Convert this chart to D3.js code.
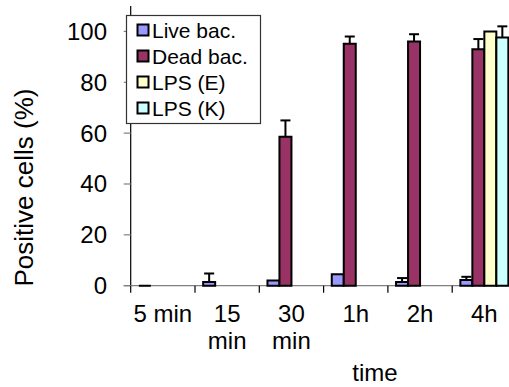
<!DOCTYPE html>
<html>
<head>
<meta charset="utf-8">
<script src="https://cdn.jsdelivr.net/npm/d3@7"></script>
<style>
  body { margin: 0; background: #fff; }
  svg { display: block; font-family: Arial, "Liberation Sans", sans-serif; }
</style>
</head>
<body>
<svg width="509" height="387"></svg>
<script>
const times = ['5 min', '15 min', '30 min', '1h', '2h', '4h'];
const seriesNames = ['Live bac.', 'Dead bac.', 'LPS (E)', 'LPS (K)'];
const seriesColors = ['#9999ff', '#993366', '#ffffcc', '#ccffff'];

// mean values (%), null = not measured
const liveBac = [0, 1.5, 2, 4.5, 1.5, 2.2];
const deadBac = [null, null, 58.6, 95.2, 96, 93];
const lpsE = [null, null, null, null, null, 100];
const lpsK = [null, null, null, null, null, 97.6];

// upper error bars
const liveErr = [0, 3.3, 0, 0, 1.5, 1.3];
const deadErr = [0, 0, 6.4, 2.8, 2.9, 4];
const lpsEErr = [0, 0, 0, 0, 0, 0];
const lpsKErr = [0, 0, 0, 0, 0, 4.4];

const yTicks = [0, 20, 40, 60, 80, 100];

const values = [liveBac, deadBac, lpsE, lpsK];
const errors = [liveErr, deadErr, lpsEErr, lpsKErr];

const svg = d3.select('svg');

const x0 = d3.scaleBand().domain(times).range([130.7, 516.5]);
const x1 = d3.scaleBand().domain(seriesNames).range([0, x0.bandwidth()]).paddingOuter(0.68);
const y = d3.scaleLinear().domain([0, 110]).range([285.7, 6]);

const bars = [];
values.forEach((vals, si) => {
  vals.forEach((v, ti) => {
    if (v === null) return;
    bars.push({ s: seriesNames[si], si, t: times[ti], v, err: errors[si][ti] });
  });
});

// y axis
const yAxis = svg.append('g');
yAxis.append('line')
  .attr('x1', x0.range()[0]).attr('x2', x0.range()[0])
  .attr('y1', y.range()[1]).attr('y2', y(0))
  .attr('stroke', '#000').attr('stroke-width', 1.2);
yAxis.selectAll('line.tick').data(yTicks).enter().append('line')
  .attr('class', 'tick')
  .attr('x1', x0.range()[0] - 7).attr('x2', x0.range()[0])
  .attr('y1', d => y(d)).attr('y2', d => y(d))
  .attr('stroke', '#808080').attr('stroke-width', 1.2);
yAxis.selectAll('text').data(yTicks).enter().append('text')
  .attr('x', 107).attr('y', d => y(d)).attr('dy', '0.35em')
  .attr('text-anchor', 'end').attr('font-size', 24).attr('fill', '#000')
  .text(d => d);

// x axis
const xAxis = svg.append('g');
xAxis.append('line')
  .attr('x1', x0.range()[0] - 7).attr('x2', x0.range()[1])
  .attr('y1', y(0)).attr('y2', y(0))
  .attr('stroke', '#808080').attr('stroke-width', 1.2);
xAxis.selectAll('line.tick').data(times).enter().append('line')
  .attr('class', 'tick')
  .attr('x1', d => x0(d)).attr('x2', d => x0(d))
  .attr('y1', y(0)).attr('y2', y(0) + 7)
  .attr('stroke', '#000').attr('stroke-width', 1.2);
const xl = xAxis.selectAll('text').data(times).enter().append('text')
  .attr('text-anchor', 'middle').attr('font-size', 24).attr('fill', '#000');
xl.each(function (d) {
  const parts = d === '15 min' || d === '30 min' ? d.split(' ') : [d];
  parts.forEach((p, i) => {
    d3.select(this).append('tspan')
      .attr('x', x0(d) + x0.bandwidth() / 2)
      .attr('y', 322 + i * 26.5)
      .text(p);
  });
});

// bars (paths so that a zero value still shows its outline)
const g = svg.append('g');
g.selectAll('path.bar').data(bars).enter().append('path')
  .attr('class', 'bar')
  .attr('d', d => {
    const bx = x0(d.t) + x1(d.s), w = x1.bandwidth();
    return `M${bx},${y(0)}V${y(d.v)}H${bx + w}V${y(0)}Z`;
  })
  .attr('fill', d => seriesColors[d.si])
  .attr('stroke', '#000').attr('stroke-width', 2);

// error bars (plus direction only)
const eb = g.selectAll('g.err').data(bars.filter(d => d.err > 0)).enter().append('g')
  .attr('class', 'err').attr('stroke', '#000').attr('stroke-width', 2);
eb.append('line')
  .attr('x1', d => x0(d.t) + x1(d.s) + x1.bandwidth() / 2)
  .attr('x2', d => x0(d.t) + x1(d.s) + x1.bandwidth() / 2)
  .attr('y1', d => y(d.v)).attr('y2', d => y(d.v + d.err));
eb.append('line')
  .attr('x1', d => x0(d.t) + x1(d.s) + 1)
  .attr('x2', d => x0(d.t) + x1(d.s) + x1.bandwidth() - 1)
  .attr('y1', d => y(d.v + d.err)).attr('y2', d => y(d.v + d.err));

// legend
const legend = svg.append('g');
legend.append('rect')
  .attr('x', 126.5).attr('y', 15.5).attr('width', 134).attr('height', 108)
  .attr('fill', '#fff').attr('stroke', '#333').attr('stroke-width', 1.2);
const li = legend.selectAll('g.item').data(seriesNames).enter().append('g')
  .attr('class', 'item')
  .attr('transform', (d, i) => `translate(137,${30 + i * 26})`);
li.append('rect')
  .attr('x', 0.5).attr('y', -5.5).attr('width', 11).attr('height', 11)
  .attr('fill', (d, i) => seriesColors[i])
  .attr('stroke', '#000').attr('stroke-width', 2);
li.append('text')
  .attr('x', 15).attr('y', 0).attr('dy', '0.36em')
  .attr('font-size', 21).attr('fill', '#000')
  .text(d => d);

// axis titles
svg.append('text')
  .attr('transform', 'translate(33,187.5) rotate(-90)')
  .attr('text-anchor', 'middle').attr('font-size', 26).attr('fill', '#000')
  .text('Positive cells (%)');
svg.append('text')
  .attr('x', 375).attr('y', 381)
  .attr('text-anchor', 'middle').attr('font-size', 24).attr('fill', '#000')
  .text('time');
</script>
</body>
</html>
